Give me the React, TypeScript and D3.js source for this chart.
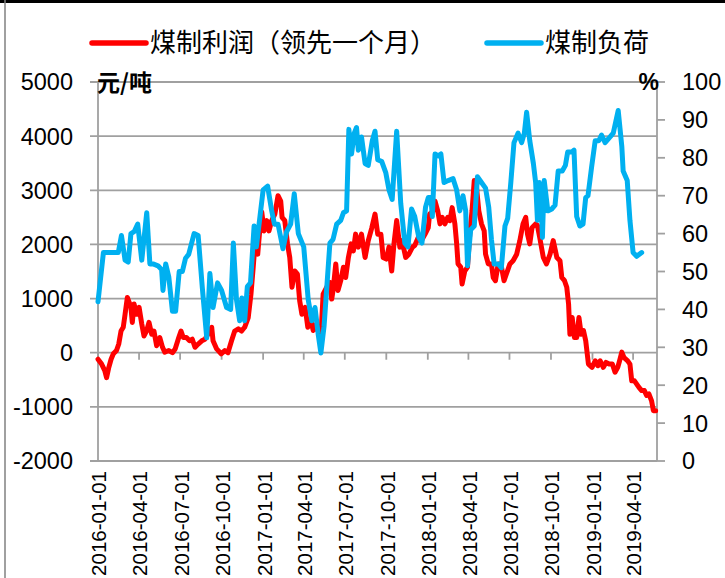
import React from 'react';
import * as d3 from 'd3';

// ---------- data ----------
const profitDates = [
  '2016-01-01','2016-01-09','2016-01-16','2016-01-20','2016-01-25','2016-01-30','2016-02-04','2016-02-11','2016-02-16','2016-02-21',
  '2016-02-26','2016-03-01','2016-03-06','2016-03-14','2016-03-17','2016-03-21','2016-03-26','2016-04-01','2016-04-07','2016-04-12',
  '2016-04-18','2016-04-23','2016-04-29','2016-05-04','2016-05-10','2016-05-17','2016-05-23','2016-05-28','2016-06-06','2016-06-14',
  '2016-06-20','2016-06-28','2016-07-03','2016-07-08','2016-07-15','2016-07-22','2016-07-28','2016-08-03','2016-08-10','2016-08-18',
  '2016-08-25','2016-09-05','2016-09-09','2016-09-12','2016-09-20','2016-09-30','2016-10-08','2016-10-15','2016-10-23','2016-10-30',
  '2016-11-07','2016-11-14','2016-11-21','2016-11-29','2016-12-05','2016-12-10','2016-12-14','2016-12-20','2016-12-25','2016-12-29',
  '2017-01-03','2017-01-09','2017-01-14','2017-01-20','2017-01-27','2017-02-03','2017-02-09','2017-02-12','2017-02-18','2017-02-24',
  '2017-03-01','2017-03-06','2017-03-12','2017-03-18','2017-03-23','2017-03-28','2017-04-04','2017-04-10','2017-04-17','2017-04-22',
  '2017-04-29','2017-05-03','2017-05-09','2017-05-14','2017-05-22','2017-05-29','2017-06-02','2017-06-05','2017-06-11','2017-06-16',
  '2017-06-22','2017-06-28','2017-07-03','2017-07-09','2017-07-15','2017-07-20','2017-07-25','2017-07-31','2017-08-07','2017-08-15',
  '2017-08-22','2017-08-30','2017-09-06','2017-09-12','2017-09-19','2017-09-24','2017-10-01','2017-10-07','2017-10-13','2017-10-18',
  '2017-10-24','2017-10-31','2017-11-05','2017-11-13','2017-11-20','2017-11-28','2017-12-03','2017-12-11','2017-12-18','2017-12-26',
  '2018-01-02','2018-01-05','2018-01-13','2018-01-17','2018-01-23','2018-01-28','2018-02-02','2018-02-08','2018-02-14','2018-02-19',
  '2018-02-24','2018-03-02','2018-03-06','2018-03-09','2018-03-15','2018-03-18','2018-03-24','2018-03-30','2018-04-04','2018-04-09',
  '2018-04-14','2018-04-19','2018-04-24','2018-04-30','2018-05-06','2018-05-09','2018-05-15','2018-05-22','2018-05-26','2018-05-31',
  '2018-06-06','2018-06-12','2018-06-19','2018-06-24','2018-07-02','2018-07-09','2018-07-17','2018-07-24','2018-07-31','2018-08-06',
  '2018-08-10','2018-08-15','2018-08-20','2018-08-28','2018-09-01','2018-09-06','2018-09-14','2018-09-21','2018-09-29','2018-10-06',
  '2018-10-14','2018-10-21','2018-10-25','2018-10-31','2018-11-05','2018-11-09','2018-11-12','2018-11-17','2018-11-22','2018-11-27',
  '2018-12-02','2018-12-07','2018-12-12','2018-12-17','2018-12-23','2018-12-31','2019-01-07','2019-01-13','2019-01-18','2019-01-25',
  '2019-01-31','2019-02-07','2019-02-14','2019-02-20','2019-02-26','2019-03-03','2019-03-07','2019-03-12','2019-03-20','2019-03-25',
  '2019-03-29','2019-04-04','2019-04-09','2019-04-14','2019-04-20','2019-04-26','2019-05-01','2019-05-06','2019-05-12','2019-05-16',
  '2019-05-21',
];
const profitValues = [
  -120,-210,-330,-460,-270,-120,-20,40,160,400,
  470,710,1020,840,560,900,710,840,530,310,
  410,560,340,400,130,280,100,10,40,0,
  70,280,400,280,280,220,250,100,160,220,
  250,400,470,220,70,-20,40,0,220,400,
  440,400,470,650,1080,1580,2010,1820,2310,2600,
  2250,2440,2250,2440,2560,2900,2800,2500,2440,2010,
  1760,1210,1510,1450,960,710,840,470,590,410,
  530,400,280,1080,1210,1300,990,1150,1640,1150,
  1330,1580,1390,1760,2010,1880,2190,1950,2190,1760,
  2070,2310,2560,2190,2190,1760,1730,1950,1510,2010,
  2440,1950,2070,1760,1820,1950,1980,2130,2070,2190,
  2310,2560,2620,2800,2620,2380,2500,2380,2500,2440,
  2680,2380,2010,1640,1580,1270,1510,1580,2190,2620,
  3180,3050,2620,2380,2250,1820,1640,1640,1390,1330,
  1640,1640,1330,1450,1640,1700,1820,2070,2380,2500,
  2190,2010,2310,2380,2350,2130,1760,1640,1820,2070,
  1760,1700,1390,1330,1210,900,340,650,280,280,
  650,340,410,220,-210,-270,-150,-240,-150,-270,
  -180,-210,-210,-360,-270,-120,10,-90,-150,-210,
  -520,-520,-580,-640,-700,-700,-790,-760,-890,-1070,
  -1070,
];

const loadDates = [
  '2016-01-01','2016-01-13','2016-02-15','2016-02-22','2016-03-01','2016-03-08','2016-03-14','2016-03-21','2016-03-29','2016-04-07',
  '2016-04-18','2016-04-25','2016-05-02','2016-05-13','2016-05-21','2016-05-24','2016-05-30','2016-06-06','2016-06-14','2016-06-21',
  '2016-06-29','2016-07-06','2016-07-13','2016-07-20','2016-08-01','2016-08-10','2016-08-19','2016-08-29','2016-09-05','2016-09-12',
  '2016-09-22','2016-10-01','2016-10-12','2016-10-21','2016-10-27','2016-11-03','2016-11-10','2016-11-15','2016-11-21','2016-11-27',
  '2016-12-04','2016-12-12','2016-12-17','2016-12-24','2017-01-01','2017-01-11','2017-01-20','2017-01-26','2017-02-03','2017-02-14',
  '2017-02-22','2017-03-03','2017-03-11','2017-03-20','2017-04-01','2017-04-11','2017-04-19','2017-04-26','2017-05-03','2017-05-09',
  '2017-05-16','2017-05-29','2017-06-05','2017-06-13','2017-06-22','2017-06-28','2017-07-05','2017-07-10','2017-07-16','2017-07-22',
  '2017-07-27','2017-07-31','2017-08-07','2017-08-15','2017-08-22','2017-08-31','2017-09-06','2017-09-12','2017-09-21','2017-09-30',
  '2017-10-07','2017-10-14','2017-10-24','2017-11-02','2017-11-11','2017-11-18','2017-11-26','2017-12-03','2017-12-12','2017-12-19',
  '2017-12-27','2018-01-02','2018-01-08','2018-01-11','2018-01-17','2018-01-24','2018-01-30','2018-02-06','2018-02-15','2018-02-26',
  '2018-03-06','2018-03-13','2018-03-20','2018-03-26','2018-03-30','2018-04-06','2018-04-14','2018-04-21','2018-04-30','2018-05-09',
  '2018-05-16','2018-05-22','2018-05-28','2018-06-06','2018-06-13','2018-06-21','2018-06-27','2018-07-04','2018-07-11','2018-07-20',
  '2018-07-28','2018-08-03','2018-08-08','2018-08-15','2018-08-23','2018-08-28','2018-09-01','2018-09-05','2018-09-09','2018-09-12',
  '2018-09-16','2018-09-24','2018-10-03','2018-10-10','2018-10-17','2018-10-26','2018-11-02','2018-11-07','2018-11-16','2018-11-21',
  '2018-11-27','2018-12-04','2018-12-11','2018-12-17','2018-12-22','2018-12-30','2019-01-07','2019-01-15','2019-01-21','2019-01-29',
  '2019-02-09','2019-02-16','2019-02-27','2019-03-07','2019-03-10','2019-03-19','2019-03-25','2019-04-01','2019-04-09','2019-04-20',
];
const loadValues = [
  42,55,55,59.5,53,52.5,60,60.5,62.5,53,
  65.5,52,52,51.5,50.5,45,52,48.5,39.5,39.5,
  50,50,53.5,54.5,60,59.5,46,32.5,49.5,40.5,
  47,45,40.5,40,57.5,42.5,37,43,37,46,
  47,62,56.5,63.5,71.5,72.5,66,62.5,62.5,56,
  60.5,62.5,70.5,60,56.5,42.5,37,40.5,33.5,28.5,
  35.5,57.5,58.5,62.5,63.5,65.5,66,87.5,81,86.5,
  88,82,85.5,78.5,78,84.5,87,79.5,79,76,
  71.5,69,87,68,57.5,56.5,66.5,64.5,59,57.5,
  67,69.5,69.5,64.5,81,80.5,81,73.5,74,74.5,
  71.5,66,70,66,51.5,61,62,75,73.5,72,
  67,58.5,52,52,51,62,64,73.5,84,86.5,
  84,86.5,92,84.5,78.5,73.5,63.5,73.5,69.5,59,
  74,66,66.5,67.5,76.5,76.5,78,81.5,81.5,82,
  64.5,62,62.5,69.5,70,77.5,84.5,84.5,86,84,
  85.5,86.5,92.5,83,76.5,74,63.5,55,54,55,
];

const leftTicks = [-2000, -1000, 0, 1000, 2000, 3000, 4000, 5000];
const rightTicks = [0, 10, 20, 30, 40, 50, 60, 70, 80, 90, 100];
const xStart = '2016-01-01';
const xEnd = '2019-05-24';
const seriesNames = ['煤制利润（领先一个月）', '煤制负荷'];
const seriesColors = ['#FF0000', '#00B0F0'];
const leftUnit = '元/吨';
const rightUnit = '%';

export default function App() {
  const W = 725;
  const H = 578;
  const parse = d3.utcParse('%Y-%m-%d');
  const fmt = d3.utcFormat('%Y-%m-%d');
  const plotL = 98, plotR = 657, plotT = 82, plotB = 461;

  const x = d3.scaleUtc().domain([parse(xStart) as Date, parse(xEnd) as Date]).range([plotL, plotR]);
  const yL = d3.scaleLinear().domain([-2000, 5000]).range([plotB, plotT]);
  const yR = d3.scaleLinear().domain([0, 100]).range([plotB, plotT]);

  const quarterTicks = (d3.utcMonth.every(3) as d3.CountableTimeInterval).range(
    parse(xStart) as Date,
    d3.utcDay.offset(parse(xEnd) as Date, 1)
  );

  const profit = profitDates.map((d, i) => [parse(d) as Date, profitValues[i]] as [Date, number]);
  const load = loadDates.map((d, i) => [parse(d) as Date, loadValues[i]] as [Date, number]);

  const lineL = d3.line<[Date, number]>().x(d => x(d[0])).y(d => yL(d[1]));
  const lineR = d3.line<[Date, number]>().x(d => x(d[0])).y(d => yR(d[1]));

  const numFont = '"Liberation Sans", Arial, sans-serif';
  const cjkFont = '"Noto Sans CJK SC", "Noto Sans", sans-serif';
  const grid = '#A0A0A0';

  return (
    <svg width={W} height={H} style={{ position: 'absolute', left: 0, top: 0, display: 'block', background: '#fff' }}>
      <rect x={0} y={0} width={W} height={H} fill="#fff" />
      {/* outer frame fragments */}
      <line x1={0} x2={W} y1={1.5} y2={1.5} stroke="#000" strokeWidth={3} />
      <line x1={5} x2={5} y1={0} y2={H} stroke="#808080" strokeWidth={1.5} />

      {/* gridlines + left ticks */}
      {leftTicks.map(t => (
        <line key={'g' + t} x1={plotL - 8} x2={plotR} y1={yL(t)} y2={yL(t)} stroke={grid} strokeWidth={1.8} />
      ))}
      {/* axes verticals */}
      <line x1={plotL} x2={plotL} y1={plotT} y2={plotB} stroke={grid} strokeWidth={1.8} />
      <line x1={plotR} x2={plotR} y1={plotT} y2={plotB} stroke={grid} strokeWidth={1.8} />
      {rightTicks.map(t => (
        <line key={'rt' + t} x1={plotR} x2={plotR + 8} y1={yR(t)} y2={yR(t)} stroke={grid} strokeWidth={1.8} />
      ))}
      {/* x ticks on zero line */}
      {quarterTicks.map(d => (
        <line key={'xt' + fmt(d)} x1={x(d)} x2={x(d)} y1={yL(0)} y2={yL(0) + 7} stroke={grid} strokeWidth={1.8} />
      ))}

      {/* left tick labels */}
      {leftTicks.map(t => (
        <text key={'ll' + t} x={73} y={yL(t)} dy="0.36em" textAnchor="end" fontFamily={numFont} fontSize={23.5} fill="#000">
          {t}
        </text>
      ))}
      {/* right tick labels */}
      {rightTicks.map(t => (
        <text key={'rl' + t} x={682} y={yR(t)} dy="0.36em" textAnchor="start" fontFamily={numFont} fontSize={23.5} fill="#000">
          {t}
        </text>
      ))}
      {/* date labels */}
      {quarterTicks.map(d => (
        <text
          key={'xl' + fmt(d)}
          transform={`translate(${x(d) + 1},${471}) rotate(-90)`}
          textAnchor="end"
          dy="0.36em"
          fontFamily={numFont}
          fontSize={20.5}
          fill="#000"
        >
          {fmt(d)}
        </text>
      ))}

      {/* units */}
      <text x={97} y={83} dy="0.36em" fontFamily={cjkFont} fontWeight="bold" fontSize={23} fill="#000">{leftUnit}</text>
      <text x={659} y={82} dy="0.36em" textAnchor="end" fontFamily={numFont} fontWeight="bold" fontSize={23} fill="#000">{rightUnit}</text>

      {/* series */}
      <path d={lineL(profit) || ''} fill="none" stroke={seriesColors[0]} strokeWidth={5} strokeLinejoin="round" strokeLinecap="round" />
      <path d={lineR(load) || ''} fill="none" stroke={seriesColors[1]} strokeWidth={5} strokeLinejoin="round" strokeLinecap="round" />

      {/* legend */}
      <line x1={92} x2={146} y1={43} y2={43} stroke={seriesColors[0]} strokeWidth={5.5} strokeLinecap="round" />
      <text x={150} y={43} dy="0.36em" fontFamily={cjkFont} fontSize={26} fill="#000">{seriesNames[0]}</text>
      <line x1={487} x2={541} y1={43} y2={43} stroke={seriesColors[1]} strokeWidth={5.5} strokeLinecap="round" />
      <text x={545} y={43} dy="0.36em" fontFamily={cjkFont} fontSize={26} fill="#000">{seriesNames[1]}</text>
    </svg>
  );
}
